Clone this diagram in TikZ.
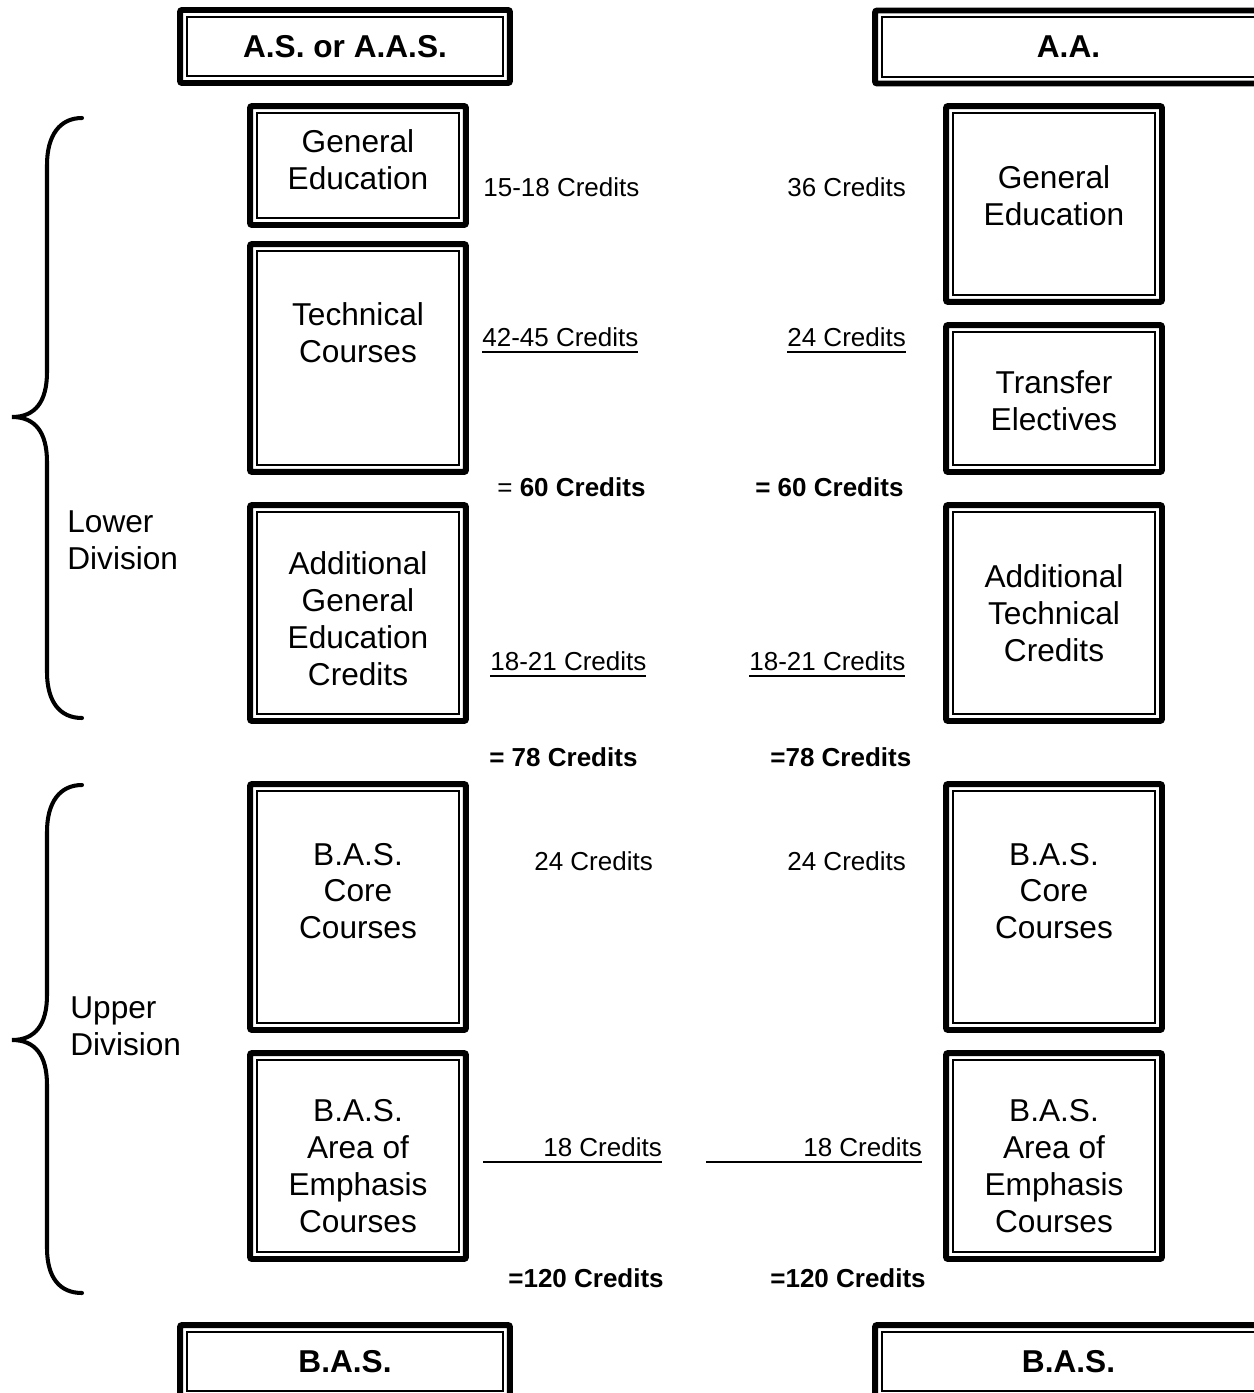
\documentclass[tikz,border=0pt]{standalone}
\usepackage{fontspec}
\setmainfont{Liberation Sans}
\newsavebox{\credbox}
\newcommand{\credul}[1]{\sbox{\credbox}{#1}\rlap{\rule[-3.5pt]{\wd\credbox}{1.1pt}}\usebox{\credbox}}
\begin{document}
\begin{tikzpicture}[x=0.02cm, y=-0.02cm,
  frame/.style={draw, line width=3.4pt, rounded corners=1.2pt, inner sep=0, minimum width=4.32cm,
    path picture={\draw[line width=1.1pt, sharp corners]
      ([shift={(3.8pt,3.8pt)}]path picture bounding box.south west) rectangle
      ([shift={(-3.8pt,-3.8pt)}]path picture bounding box.north east);}},
  head/.style={frame, minimum height=1.46cm, font=\fontsize{18}{21}\selectfont\bfseries},
  boxtext/.style={align=center, inner sep=0, font=\fontsize{18}{21}\selectfont},
  credit/.style={anchor=west, inner sep=0, font=\fontsize{14.8}{17}\selectfont},
  brace/.style={line width=2.3pt, line cap=round}]
\useasboundingbox (0,0) rectangle (1254,1393);
% headers
\node[head, minimum width=6.6cm] (asL) at (345,46.5) {A.S. or A.A.S.};
\node[head, minimum width=7.74cm] (aaR) at (1068.5,47) {A.A.};
\node[head, minimum width=6.6cm] (basL) at (345,1361.5) {B.A.S.};
\node[head, minimum width=7.74cm] (basR) at (1068.5,1361.5) {B.A.S.};
% left column
\node[frame, minimum height=2.38cm] (genL) at (358,165.5) {};
\node[frame, minimum height=4.56cm] (techL) at (358,358) {};
\node[frame, minimum height=4.32cm] (addL) at (358,613) {};
\node[frame, minimum height=4.92cm] (coreL) at (358,907) {};
\node[frame, minimum height=4.12cm] (emphL) at (358,1156) {};
\node[boxtext] (genLt) at (358,160) {General\\Education};
\node[boxtext] (techLt) at (358,333) {Technical\\Courses};
\node[boxtext] (addLt) at (358,619) {Additional\\General\\Education\\Credits};
\node[boxtext] (coreLt) at (358,891) {B.A.S.\\Core\\Courses};
\node[boxtext] (emphLt) at (358,1166) {B.A.S.\\Area of\\Emphasis\\Courses};
% right column
\node[frame, minimum height=3.92cm] (genR) at (1054,204) {};
\node[frame, minimum height=2.94cm] (transR) at (1054,398.5) {};
\node[frame, minimum height=4.32cm] (addR) at (1054,613) {};
\node[frame, minimum height=4.92cm] (coreR) at (1054,907) {};
\node[frame, minimum height=4.12cm] (emphR) at (1054,1156) {};
\node[boxtext] (genRt) at (1054,196) {General\\Education};
\node[boxtext] (transRt) at (1054,401) {Transfer\\Electives};
\node[boxtext] (addRt) at (1054,613) {Additional\\Technical\\Credits};
\node[boxtext] (coreRt) at (1054,891) {B.A.S.\\Core\\Courses};
\node[boxtext] (emphRt) at (1054,1166) {B.A.S.\\Area of\\Emphasis\\Courses};
% credits, left
\node[credit] (crGenL) at (483,187) {15-18 Credits};
\node[credit] (crTechL) at (482,340) {\credul{42-45 Credits}};
\node[credit] (sumLowL) at (497,487) {= \textbf{60 Credits}};
\node[credit] (crAddL) at (490,664) {\credul{18-21 Credits}};
\node[credit] (sumAddL) at (489,757) {\textbf{= 78 Credits}};
\node[credit] (crCoreL) at (534,861) {24 Credits};
\node[credit] (crEmphL) at (483,1150) {\credul{\hspace{1.2cm}18 Credits}};
\node[credit] (sumAllL) at (508,1278) {\textbf{=120 Credits}};
% credits, right
\node[credit] (crGenR) at (787,187) {36 Credits};
\node[credit] (crTransR) at (787,340) {\credul{24 Credits}};
\node[credit] (sumLowR) at (755,487) {\textbf{= 60 Credits}};
\node[credit] (crAddR) at (749,664) {\credul{18-21 Credits}};
\node[credit] (sumAddR) at (770,757) {\textbf{=78 Credits}};
\node[credit] (crCoreR) at (787,861) {24 Credits};
\node[credit] (crEmphR) at (706,1150) {\credul{\hspace{1.94cm}18 Credits}};
\node[credit] (sumAllR) at (770,1278) {\textbf{=120 Credits}};
% braces
\draw[brace] (82,118) .. controls (60,118) and (47,135) .. (47,165) -- (47,372)
  .. controls (47,402) and (35,417) .. (12,417) .. controls (35,417) and (47,432) .. (47,462)
  -- (47,672) .. controls (47,702) and (60,718) .. (82,718);
\draw[brace] (82,785) .. controls (60,785) and (47,802) .. (47,832) -- (47,995)
  .. controls (47,1025) and (35,1040) .. (12,1040) .. controls (35,1040) and (47,1055) .. (47,1085)
  -- (47,1248) .. controls (47,1278) and (60,1293) .. (82,1293);
\node[boxtext, anchor=west, align=left] (lowerDiv) at (67,540) {Lower\\Division};
\node[boxtext, anchor=west, align=left] (upperDiv) at (70,1026) {Upper\\Division};
\end{tikzpicture}
\end{document}
